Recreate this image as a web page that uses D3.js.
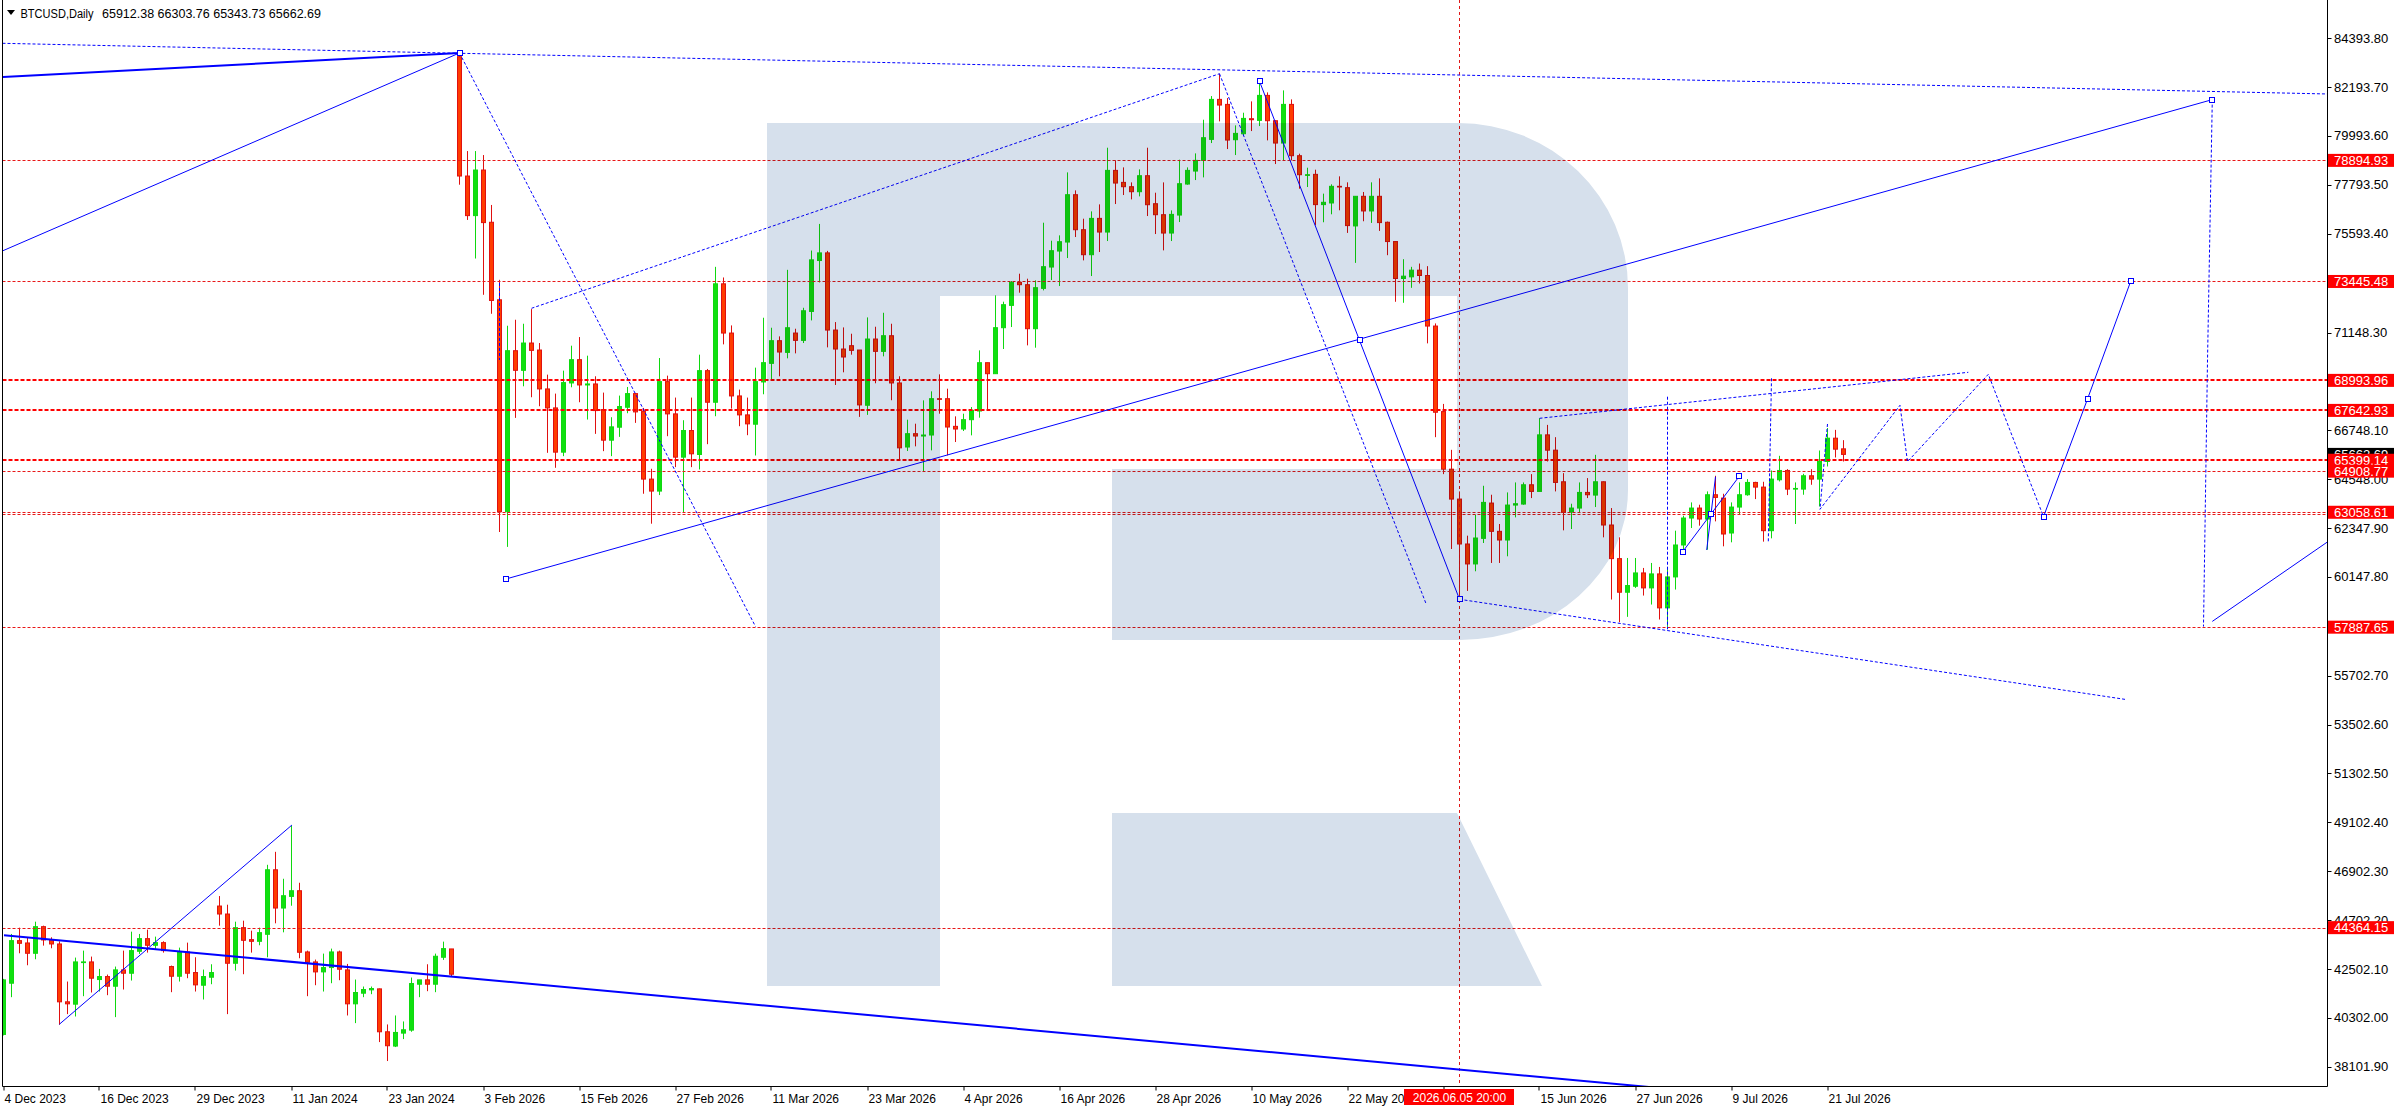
<!DOCTYPE html>
<html>
<head>
<meta charset="utf-8">
<script src="https://cdn.jsdelivr.net/npm/d3@7"></script>
<style>
html,body{margin:0;padding:0;background:#fff;overflow:hidden;}
svg{display:block;}
</style>
</head>
<body>
<script>
// ---------------- DATA ----------------
const symbolTitle = "BTCUSD,Daily";
const headerValues = ["65912.38", "66303.76", "65343.73", "65662.69"];

const opens = [
39559,41864,43780,43675,43211,44409,43810,43630,41026,40921,
42792,42822,42029,42163,41729,42463,42313,43301,43870,43571,
43690,42613,42178,43271,42343,41774,42134,45337,44978,42762,
44364,43825,43750,44065,46969,45247,45771,46026,43271,42822,
42373,42568,43271,42463,40936,41415,41565,41609,39678,39035,
39618,39753,41819,42014,41819,43032,43406,
83563,78191,76409,78461,76110,72621,63084,70330,69447,70675,
70360,68609,67755,65764,68878,69926,68788,68833,67680,66303,
66887,67785,68399,67590,64551,64012,68938,67486,65539,66737,
65659,69432,68010,73340,71124,68294,67441,67022,68923,69761,
70780,70255,71124,70795,72097,74388,74732,71259,70405,70555,
70360,67875,70855,70300,71004,68878,
65995,66595,66490,66535,68170,68170,66925,66805,67225,67615,
69790,69295,71365,72370,73405,73300,71320,73135,74095,74815,
75220,77350,75775,74650,76285,75670,78445,77905,77710,77485,
78205,76945,76450,75625,76435,77830,78415,78895,79840,81640,
81415,79825,80095,80770,80695,81820,80680,79675,81415,79105,
78220,
78266,76904,76978,77727,77667,75945,77278,76619,77278,76110,
75242,73580,73654,73954,73714,71439,67590,64999,63652,61631,
60733,61885,63473,62200,61810,63383,63428,64296,63997,66542,
65853,64431,63069,63248,63952,63832,64431,62485,60972,59460,
59730,60328,59655,60284,58756,60149,61586,62799,63248,62754,
63847,63697,62125,63293,63847,64401,64191,62230,64521,64940,
64101,64101,64701,64551,65344,66393,65912.38
];
const highs = [
42059,44080,44364,43930,44633,44454,43930,43750,41939,43017,
43331,43062,42508,42253,42613,43331,44184,44080,44274,43960,
43750,42657,43466,43690,43032,42478,42717,45786,45397,44633,
44678,44229,44364,47193,47777,46565,48945,46385,43331,42927,
43196,43421,43331,42732,42029,41714,41714,41624,40008,40412,
40143,42119,42014,42717,43196,43735,43406,
83729,79314,79314,79135,76889,73520,71453,71723,71543,72202,
70675,69252,68399,69432,70555,70944,70106,69178,68444,67336,
68309,68698,68429,67755,65015,70001,69207,68220,67201,68220,
70151,69507,74104,73625,71468,68579,68220,69567,71813,71363,
70974,73969,71318,72262,74837,76035,74822,71618,71378,71094,
70360,71828,71408,72037,71543,69178,
67225,67045,68095,68500,69265,68620,67375,67495,67795,70345,
69790,72820,72535,73465,73795,73570,73495,76090,75280,75520,
78355,77545,76270,76600,76915,79465,78895,78580,77905,78490,
79465,77440,77905,76645,78925,78580,79210,80725,81790,82795,
81700,80470,81040,81550,82345,81955,80695,82045,81640,79195,
78565,
78476,77398,77817,78176,77907,77278,77473,77907,78086,76140,
75242,74448,74104,74253,74134,71558,67935,65868,63997,62005,
62949,64251,63847,62530,63952,64401,64401,64775,67291,66991,
66438,64820,63443,64401,64596,65644,64446,63248,61930,61002,
61002,60553,60777,60598,60598,62230,62904,63503,63398,63997,
64701,63892,63503,64401,64551,64431,64431,64940,65599,64999,
64401,64790,64999,65838,66850,66767,66303.76
];
const lows = [
39514,41235,43211,42672,42942,43556,43436,39993,40472,40367,
41280,41445,41490,41325,40337,41580,41984,43181,43241,43361,
43241,41460,41939,42089,41490,41131,41819,44454,40472,42433,
42268,43241,43571,43032,44559,44154,45352,42987,41280,41774,
41490,41864,41999,40412,40068,41235,41370,39214,38361,38990,
39349,39678,41235,41505,41460,42912,42178,
77800,76215,74478,72846,71992,62170,61500,67306,68728,68235,
67830,65734,65060,65584,68683,68010,67231,66587,65809,65584,
66452,67516,67081,63892,62544,63832,66482,65090,63069,65090,
64985,66123,67381,70615,67725,66932,66527,65614,68369,68983,
69178,69986,70210,70675,71693,73400,70480,68788,69357,70151,
67351,67441,68863,70076,68100,65434,
65815,66025,64870,65845,67495,65620,66220,66715,66520,67315,
67615,69295,70405,71395,72940,70570,70465,73045,73510,73240,
74500,75445,74395,73690,74770,75265,76930,77335,77140,77275,
76390,75580,74845,75265,76120,77800,78010,78130,79675,80650,
79405,79135,80005,80215,80440,79795,78730,78895,78895,77620,
77695,
75975,76110,76469,76649,75631,74283,76155,76080,75721,74628,
72532,72487,73160,73355,70660,66438,64775,61406,59131,59520,
60403,61676,60777,60777,61077,62829,63398,63697,63997,65344,
63997,62245,62305,63024,63697,63293,61930,59131,58112,58352,
59655,59310,58906,58232,57903,59580,61376,62350,62455,61376,
62649,61526,61706,62949,63802,63652,61736,61885,64446,63832,
62530,63847,64296,63323,65120,65524,65343.73
];
const closes = [
42014,43780,43660,43211,44409,43810,43630,41026,40936,42822,
42822,42089,42163,41729,42463,42313,43331,43870,43571,43690,
43331,42178,43271,42313,41789,42163,42343,44978,42762,44364,
43795,43750,44139,46969,45247,45801,46026,43256,42807,42373,
42568,43271,42493,40936,41445,41580,41624,39678,39050,39648,
39768,41849,42014,41819,43077,43421,42268,
78191,76409,78461,76095,72591,63084,70330,69447,70675,70345,
68609,67755,65764,68893,69926,68788,68833,67635,66303,66902,
67815,68399,67575,64551,64012,68938,67486,65539,66737,65689,
69432,68010,73340,71124,68294,67441,67037,68938,69791,70780,
70270,71363,70795,72127,74418,74732,71259,70405,70046,70345,
67890,70855,70300,71004,68878,65958,
66595,66490,66535,68170,68140,66895,66805,67225,67645,69790,
69295,71365,72400,73405,73300,71320,73165,74110,74830,75235,
77350,75775,74650,76285,75670,78445,77875,77710,77485,78205,
76900,76450,75625,76465,77845,78445,78895,79915,81640,81385,
79810,80110,80785,80725,81820,80680,79675,81415,79105,78250,
78250,
76904,77008,77727,77697,75960,77278,76619,77278,76095,75242,
73580,73684,73954,73714,71439,67560,64999,63652,61631,60733,
61900,63503,62200,61810,63383,63443,64296,63997,66542,65853,
64401,63054,63248,63952,63847,64431,62485,60972,59460,59760,
60328,59655,60284,58756,60149,61586,62799,63248,62754,63847,
63727,62080,63293,63847,64401,64191,62230,64551,64940,64101,
64131,64701,64551,65344,66393,65898,65662.69
];

// date axis: one label every 12 bars
const tickStep = 12;
const dateTicks = ["4 Dec 2023","16 Dec 2023","29 Dec 2023","11 Jan 2024","23 Jan 2024",
  "3 Feb 2026","15 Feb 2026","27 Feb 2026","11 Mar 2026","23 Mar 2026","4 Apr 2026",
  "16 Apr 2026","28 Apr 2026","10 May 2026","22 May 2026","3 Jun 2026","15 Jun 2026",
  "27 Jun 2026","9 Jul 2026","21 Jul 2026"];

// price axis labels
const priceTicks = [84393.80,82193.70,79993.60,77793.50,75593.40,71148.30,66748.10,64548.00,
  62347.90,60147.80,55702.70,53502.60,51302.50,49102.40,46902.30,44702.20,42502.10,40302.00,38101.90];

// horizontal levels
const levelValues = [78894.93, 73445.48, 68993.96, 67642.93, 65399.14, 64908.77, 63058.61, 57887.65, 44364.15];
const thickLevels = [68993.96, 67642.93, 65399.14];
const extraLevels = [62968];           // second line of the doubled 63058.61 level
const currentPrice = 65662.69;

// vertical time marker
const markerBar = 182;
const markerLabel = "2026.06.05 20:00";

// trend lines: [barIndex, price]
const solidThick = [
  [[-0.125, 82647], [57, 83729]],
  [[0.06, 44019], [205.8, 37189]]
];
const solidThin = [
  [[-0.44, 74772], [57, 83729]],
  [[6.98, 40016], [36.06, 48984]],
  [[157, 82454], [182, 59142]],
  [[62.8, 60055], [276.1, 81630]],
  [[276.1, 58147], [292, 62097]],
  [[209.9, 61284], [217, 64691]],
  [[212.9, 61360], [214, 64659]],
  [[255, 62859], [260.5, 68156], [265.9, 73453]]
];
const dottedLines = [
  [[-0.125, 84164], [290.7, 81882]],
  [[57, 83729], [94, 57917]],
  [[66, 72238], [152, 82795]],
  [[62, 73380], [62, 69913]],
  [[152, 82795], [177.8, 58961]],
  [[276.1, 81630], [275.5, 69866], [275, 57917]],
  [[182, 59142], [265.4, 54627]],
  [[192, 67287], [245.6, 69358]],
  [[208, 68259], [208, 57791]],
  [[221, 69087], [220.6, 61734]],
  [[228, 67031], [227.06, 63192], [237.06, 67872], [238, 65334], [248.1, 69267], [255, 62859]]
];
const squarePoints = [[57, 83729], [62.8, 60055], [157, 82454], [169.5, 70811], [182, 59142],
  [276.1, 81630], [209.9, 61284], [213.45, 62980], [217, 64691], [255, 62859], [260.5, 68156], [265.9, 73453]];

// ---------------- DRAW ----------------
const W = 2396, H = 1110;
const PL = 2.5, PR = 2327.5, PB = 1086.5;
const FONT = "'Liberation Sans', Arial, sans-serif";
const BLUE = "#0000ff";
const RED = "#ff0000";

const x = d3.scaleLinear().domain([0, 230]).range([3.5, 1843.5]);
const y = d3.scaleLinear().domain([38101.9, 84393.8]).range([1066.8, 38.2]);
const crisp = v => Math.round(v) + 0.5;

const svg = d3.select("body").append("svg").attr("width", W).attr("height", H);
svg.append("rect").attr("width", W).attr("height", H).attr("fill", "#fff");

const defs = svg.append("defs");
defs.append("clipPath").attr("id", "plotClip")
  .append("rect").attr("x", PL + 0.5).attr("y", 0).attr("width", PR - PL - 1).attr("height", PB - 0.5);

const plot = svg.append("g").attr("clip-path", "url(#plotClip)");

// candles
const bars = d3.range(opens.length).map(i => ({ i, o: opens[i], h: highs[i], l: lows[i], c: closes[i] }));
const isUp = d => d.c >= d.o;
const gC = plot.append("g");
gC.selectAll("line").data(bars).join("line")
  .attr("x1", d => x(d.i)).attr("x2", d => x(d.i))
  .attr("y1", d => y(d.h)).attr("y2", d => y(d.l))
  .attr("stroke", d => isUp(d) ? "#10d810" : "#e01010")
  .attr("stroke-width", 1);
gC.selectAll("rect").data(bars).join("rect")
  .attr("x", d => x(d.i) - 2).attr("width", 4)
  .attr("y", d => y(Math.max(d.o, d.c)))
  .attr("height", d => Math.max(0.5, y(Math.min(d.o, d.c)) - y(Math.max(d.o, d.c))))
  .attr("fill", d => isUp(d) ? "#10e010" : "#ff3c00")
  .attr("stroke", d => isUp(d) ? "#10d810" : "#e01010")
  .attr("stroke-width", 1);

// horizontal levels
const gL = plot.append("g");
gL.selectAll("line.lvl").data(levelValues.concat(extraLevels)).join("line")
  .attr("class", "lvl")
  .attr("x1", PL).attr("x2", PR)
  .attr("y1", v => thickLevels.includes(v) ? Math.round(y(v)) : crisp(y(v)))
  .attr("y2", v => thickLevels.includes(v) ? Math.round(y(v)) : crisp(y(v)))
  .attr("stroke", v => thickLevels.includes(v) ? RED : "#e81818")
  .attr("stroke-width", v => thickLevels.includes(v) ? 2 : 1)
  .attr("stroke-dasharray", v => thickLevels.includes(v) ? "4,2" : "3,2");

// vertical marker
plot.append("line")
  .attr("x1", x(markerBar)).attr("x2", x(markerBar))
  .attr("y1", 0).attr("y2", PB)
  .attr("stroke", "#e01818").attr("stroke-width", 1).attr("stroke-dasharray", "3,3");

// trend lines
const lineGen = d3.line().x(d => x(d[0])).y(d => y(d[1]));
const gB = plot.append("g").attr("fill", "none");
gB.selectAll("path.st").data(solidThick).join("path").attr("class", "st")
  .attr("d", lineGen).attr("stroke", BLUE).attr("stroke-width", 2);
gB.selectAll("path.sn").data(solidThin).join("path").attr("class", "sn")
  .attr("d", lineGen).attr("stroke", BLUE).attr("stroke-width", 1);
gB.selectAll("path.dt").data(dottedLines).join("path").attr("class", "dt")
  .attr("d", lineGen).attr("stroke", BLUE).attr("stroke-width", 1).attr("stroke-dasharray", "3,2");
plot.append("g").selectAll("rect").data(squarePoints).join("rect")
  .attr("x", d => Math.round(x(d[0])) - 2.5).attr("y", d => Math.round(y(d[1])) - 2.5)
  .attr("width", 5).attr("height", 5)
  .attr("fill", "#fff").attr("stroke", BLUE).attr("stroke-width", 1);

// watermark logo (multiplied over the chart)
plot.append("path")
  .attr("d", "M767,123 H1458 A170,165 0 0 1 1628,288 V490 A168,150 0 0 1 1460,640 H1112 V469 H1457 V296 H940 V986 H767 Z M1112,813 H1457 L1542,986 H1112 Z")
  .attr("fill", "#d6e0ec")
  .style("mix-blend-mode", "multiply");

// frame / axes
svg.append("line").attr("x1", PL).attr("x2", PL).attr("y1", 0).attr("y2", PB).attr("stroke", "#000");
svg.append("line").attr("x1", PR).attr("x2", PR).attr("y1", 0).attr("y2", PB).attr("stroke", "#000");
svg.append("line").attr("x1", PL).attr("x2", PR).attr("y1", PB).attr("y2", PB).attr("stroke", "#000");

// date axis
const markerBoxX = x(markerBar) - 55.5, markerBoxW = 110;
defs.append("clipPath").attr("id", "dateClip")
  .append("rect").attr("x", 0).attr("y", PB).attr("width", markerBoxX).attr("height", H - PB);
const gD = svg.append("g").attr("font-family", FONT).attr("font-size", 12).attr("fill", "#000");
dateTicks.forEach((t, k) => {
  const xx = x(k * tickStep);
  gD.append("line").attr("x1", crisp(xx) - 0.5).attr("x2", crisp(xx) - 0.5).attr("y1", PB).attr("y2", PB + 4).attr("stroke", "#000");
  // labels fully covered by the marker box are not visible; the one running into it is cut at its edge
  if (xx >= markerBoxX && xx <= markerBoxX + markerBoxW) return;
  const txt = gD.append("text").attr("x", xx + 1).attr("y", 1103).text(t);
  if (xx < markerBoxX && xx + 70 > markerBoxX) txt.attr("clip-path", "url(#dateClip)");
});
// marker date label
svg.append("rect").attr("x", markerBoxX).attr("y", 1089).attr("width", markerBoxW).attr("height", 16).attr("fill", RED);
svg.append("text").attr("x", x(markerBar)).attr("y", 1102).attr("text-anchor", "middle")
  .attr("font-family", FONT).attr("font-size", 12).attr("fill", "#fff").text(markerLabel);

// price axis
const gP = svg.append("g").attr("font-family", FONT).attr("font-size", 13);
priceTicks.forEach(v => {
  const yy = crisp(y(v));
  gP.append("line").attr("x1", PR).attr("x2", PR + 4).attr("y1", yy).attr("y2", yy).attr("stroke", "#000");
  gP.append("text").attr("x", 2334).attr("y", y(v) + 4.5).attr("fill", "#000").text(v.toFixed(2));
});
// current price (black)
gP.append("rect").attr("x", 2328).attr("y", y(currentPrice) - 6.5).attr("width", 66).attr("height", 13).attr("fill", "#000");
gP.append("text").attr("x", 2334).attr("y", y(currentPrice) + 4.5).attr("fill", "#fff").text(currentPrice.toFixed(2));
// level labels (red)
levelValues.slice().sort((a, b) => b - a).forEach(v => {
  gP.append("rect").attr("x", 2328).attr("y", y(v) - 6.5).attr("width", 66).attr("height", 13).attr("fill", RED);
  gP.append("text").attr("x", 2334).attr("y", y(v) + 4.5).attr("fill", "#fff").text(v.toFixed(2));
});

// header
svg.append("path").attr("d", "M7,10 L15,10 L11,15 Z").attr("fill", "#000");
svg.append("text").attr("x", 20.5).attr("y", 17.5).attr("font-family", FONT).attr("font-size", 12.5)
  .attr("textLength", 73).attr("lengthAdjust", "spacingAndGlyphs")
  .attr("fill", "#000").text(symbolTitle);
svg.append("text").attr("x", 102).attr("y", 17.5).attr("font-family", FONT).attr("font-size", 12.5)
  .attr("fill", "#000").text(headerValues.join(" "));
</script>
</body>
</html>
